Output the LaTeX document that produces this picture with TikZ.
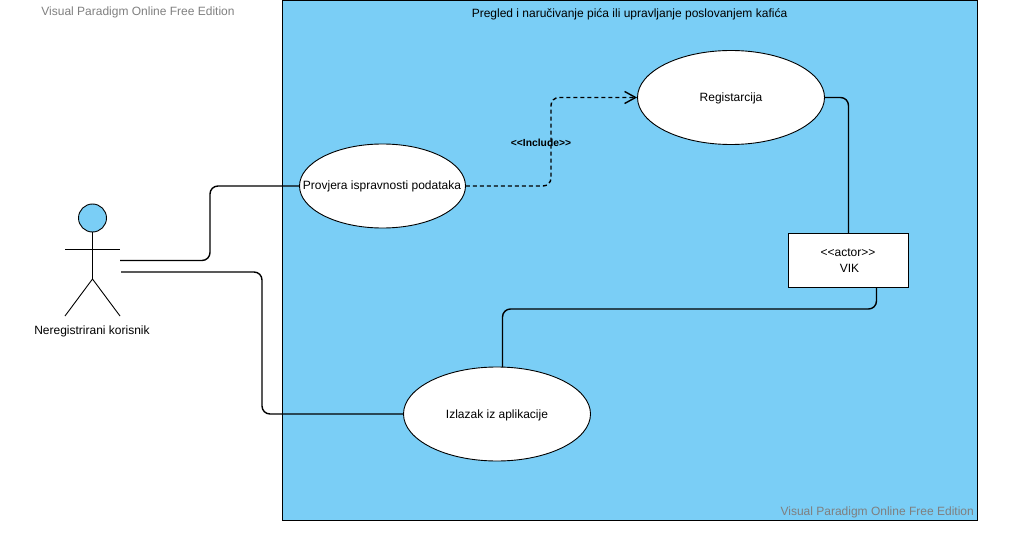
\documentclass[tikz,border=0pt]{standalone}
\usepackage{fontspec}
\setmainfont{Liberation Sans}
\usetikzlibrary{arrows.meta,shapes.geometric}
\definecolor{sysblue}{HTML}{7ACEF6}
\definecolor{markgray}{HTML}{7F7F7F}
\tikzset{
  usecase/.style={draw=black,fill=white,ellipse,inner sep=0pt,line width=0.9pt},
  vikbox/.style={draw=black,fill=white,line width=0.9pt,inner sep=0pt,align=center},
  stick/.style={line width=0.9pt},
  link/.style={line width=1.4pt,rounded corners=8pt},
  watermark/.style={text=markgray,font=\fontsize{12}{14}\selectfont,inner sep=0pt},
  txt/.style={font=\fontsize{12}{14}\selectfont,inner sep=0pt},
}
\begin{document}
\begin{tikzpicture}[x=1pt,y=-1pt]
\useasboundingbox (0,0) rectangle (1017,540);
\draw[fill=sysblue,line width=0.9pt] (282.5,0) rectangle (977,520);
\node[watermark] (markleft) at (138,12.5) {Visual Paradigm Online Free Edition};
\node[watermark,anchor=east] (markright) at (974,512.5) {Visual Paradigm Online Free Edition};
\node[txt] (title) at (629.5,14.5) {Pregled i naručivanje pića ili upravljanje poslovanjem kafića};
% actor
\node[circle,draw=black,fill=sysblue,line width=0.9pt,minimum size=28pt,inner sep=0pt] (head) at (92.5,218) {};
\coordinate (hip) at (92.5,279);
\coordinate (armleft) at (65,249);
\coordinate (armright) at (120,249);
\coordinate (footleft) at (65,316);
\coordinate (footright) at (120,316);
\draw[stick] (head) -- (hip);
\draw[stick] (armleft) -- (armright);
\draw[stick] (footleft) -- (hip) -- (footright);
\node[txt] (actorlabel) at (92,331) {Neregistrirani korisnik};
% use cases
\node[usecase,minimum width=166pt,minimum height=84pt] (provjera) at (382.5,186) {};
\node[txt] (provjeratext) at (382,186.5) {Provjera ispravnosti podataka};
\node[usecase,minimum width=187pt,minimum height=94pt] (registarcija) at (731,97.5) {};
\node[txt] (registarcijatext) at (731,98.5) {Registarcija};
\node[usecase,minimum width=187pt,minimum height=94pt] (izlazak) at (497,414) {};
\node[txt] (izlazaktext) at (497,415.5) {Izlazak iz aplikacije};
\node[vikbox,minimum width=120pt,minimum height=54pt] (vik) at (848.5,260.5) {};
\node[txt] (vikstereo) at (848,253) {<{}<actor>{}>};
\node[txt] (vikname) at (849.5,268) {VIK};
% connectors
\coordinate (handone) at (120,260.5);
\coordinate (handtwo) at (121,272);
\coordinate (vikout) at (876.5,287.5);
\coordinate (izlazakin) at (502.5,367);
\draw[link] (handone) -- (210,260.5) -- (210,186) -- (provjera.west);
\draw[link] (handtwo) -- (262,272) -- (262,414) -- (izlazak.west);
\draw[link,dashed,dash pattern=on 4pt off 3pt,-{Straight Barb[length=11pt,width=12pt]}] (provjera.east) -- (551,186) -- (551,97.5) -- (registarcija.west);
\draw[link] (registarcija.east) -- (848.5,97.5) -- (vik.north);
\draw[link] (vikout) -- (876.5,309) -- (502.5,309) -- (izlazakin);
\node[font=\fontsize{10.3}{12}\bfseries\selectfont,inner sep=0pt] (includelabel) at (541,142.5) {<{}<Include>{}>};
\end{tikzpicture}
\end{document}
